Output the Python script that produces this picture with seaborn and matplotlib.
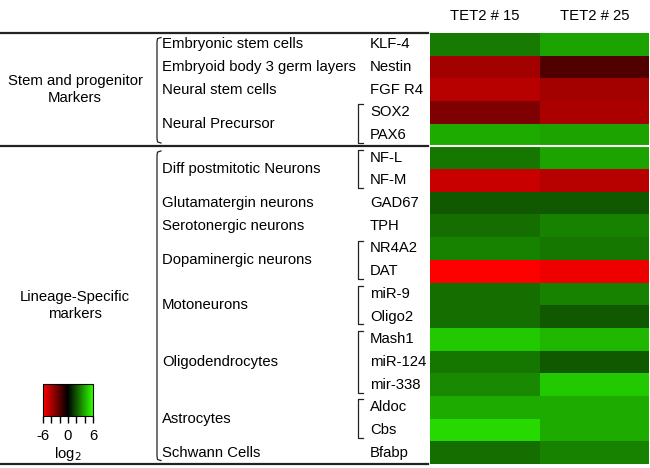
import numpy as np
import pandas as pd
import matplotlib
matplotlib.use("Agg")
import matplotlib.pyplot as plt
import matplotlib.transforms as mtrans
from matplotlib.colors import LinearSegmentedColormap
import seaborn as sns

# data (log2 fold change)
markers = ["KLF-4", "Nestin", "FGF R4", "SOX2", "PAX6",
           "NF-L", "NF-M", "GAD67", "TPH", "NR4A2", "DAT", "miR-9", "Oligo2",
           "Mash1", "miR-124", "mir-338", "Aldoc", "Cbs", "Bfabp"]
tet2_15 = [2.9, -3.8, -4.3, -3.0, 4.0,
           2.8, -4.7, 2.1, 2.6, 3.0, -6.0, 2.6, 2.6,
           4.7, 2.8, 3.2, 4.0, 5.1, 2.6]
tet2_25 = [3.8, -1.9, -3.8, -4.0, 3.8,
           3.8, -4.3, 2.1, 3.0, 2.8, -5.6, 3.0, 2.1,
           4.3, 2.1, 4.7, 4.0, 4.0, 3.0]
columns = ["TET2 # 15", "TET2 # 25"]

cell_types = ["Embryonic stem cells", "Embryoid body 3 germ layers", "Neural stem cells",
              "Neural Precursor", "Diff postmitotic Neurons", "Glutamatergin neurons",
              "Serotonergic neurons", "Dopaminergic neurons", "Motoneurons",
              "Oligodendrocytes", "Astrocytes", "Schwann Cells"]
cell_rows = [(0, 0), (1, 1), (2, 2), (3, 4), (5, 6), (7, 7), (8, 8), (9, 10),
             (11, 12), (13, 15), (16, 17), (18, 18)]
sections = ["Stem and progenitor\nMarkers", "Lineage-Specific\nmarkers"]
section_rows = [(0, 4), (5, 18)]

df = pd.DataFrame({columns[0]: tet2_15, columns[1]: tet2_25}, index=markers)

plt.rcParams['font.family'] = ['Liberation Sans', 'DejaVu Sans']
plt.rcParams['axes.unicode_minus'] = False
fs = 10.7

cmap = LinearSegmentedColormap.from_list("rg", ["#ff0000", "#000000", "#2dff00"])

W, H = 650, 468
fig = plt.figure(figsize=(6.5, 4.68), dpi=100)
base = fig.add_axes([0, 0, 1, 1])
base.set_xlim(0, W)
base.set_ylim(H, 0)
base.axis('off')

hax = fig.add_axes([430 / W, (H - 464) / H, 219 / W, 431 / H])
cax = fig.add_axes([43 / W, (H - 416) / H, 50 / W, 32 / H])

sns.heatmap(df, ax=hax, cmap=cmap, vmin=-6, vmax=6, cbar_ax=cax,
            cbar_kws={'orientation': 'horizontal'}, yticklabels=False)
hax.xaxis.tick_top()
hax.set_xticklabels(columns, fontsize=fs, rotation=0)
hax.tick_params(axis='x', length=0, pad=7)
hax.tick_params(axis='y', length=0)
hax.set_ylabel("")
hax.axhline(5, color='white', lw=1.5)

cb = hax.collections[0].colorbar
cb.outline.set_edgecolor('black')
cb.outline.set_linewidth(0.8)
cb.set_ticks([-6, 0, 6])
cb.ax.set_xticks([-4, -2, 2, 4], minor=True)
cb.ax.tick_params(which='both', length=5, width=1, labelsize=fs, pad=4)
cb.ax.set_xlabel("log$_2$", fontsize=fs, labelpad=2)

# x in figure pixels, y in heatmap rows
tr = mtrans.blended_transform_factory(base.transData, hax.transData)
lc = '#222222'

# horizontal separators
for r in [0, 5, 19]:
    base.plot([0, 428], [r, r], transform=tr, color=lc, lw=1.6, clip_on=False)

# section labels
for lab, (a, b) in zip(sections, section_rows):
    base.text(75, (a + b + 1) / 2, lab, transform=tr, ha='center', va='center',
              fontsize=fs, linespacing=1.3)

# marker labels
for i, m in enumerate(markers):
    base.text(370, i + 0.5, m, transform=tr, ha='left', va='center', fontsize=fs)

# cell type labels and small brackets
for lab, (a, b) in zip(cell_types, cell_rows):
    base.text(162, (a + b + 1) / 2, lab, transform=tr, ha='left', va='center', fontsize=fs)
    if b > a:
        y0, y1 = a + 0.15, b + 0.85
        base.plot([363, 358, 358, 363], [y0, y0, y1, y1], transform=tr,
                  color=lc, lw=0.9, clip_on=False)

# big brackets for sections
for (a, b) in section_rows:
    y0, y1 = a + 0.2, b + 0.85
    base.plot([161, 157.5, 157, 157, 157.5, 161], [y0, y0 + 0.05, y0 + 0.2, y1 - 0.2, y1 - 0.05, y1],
              transform=tr, color=lc, lw=0.9, clip_on=False)

fig.savefig("out.png", dpi=100)
